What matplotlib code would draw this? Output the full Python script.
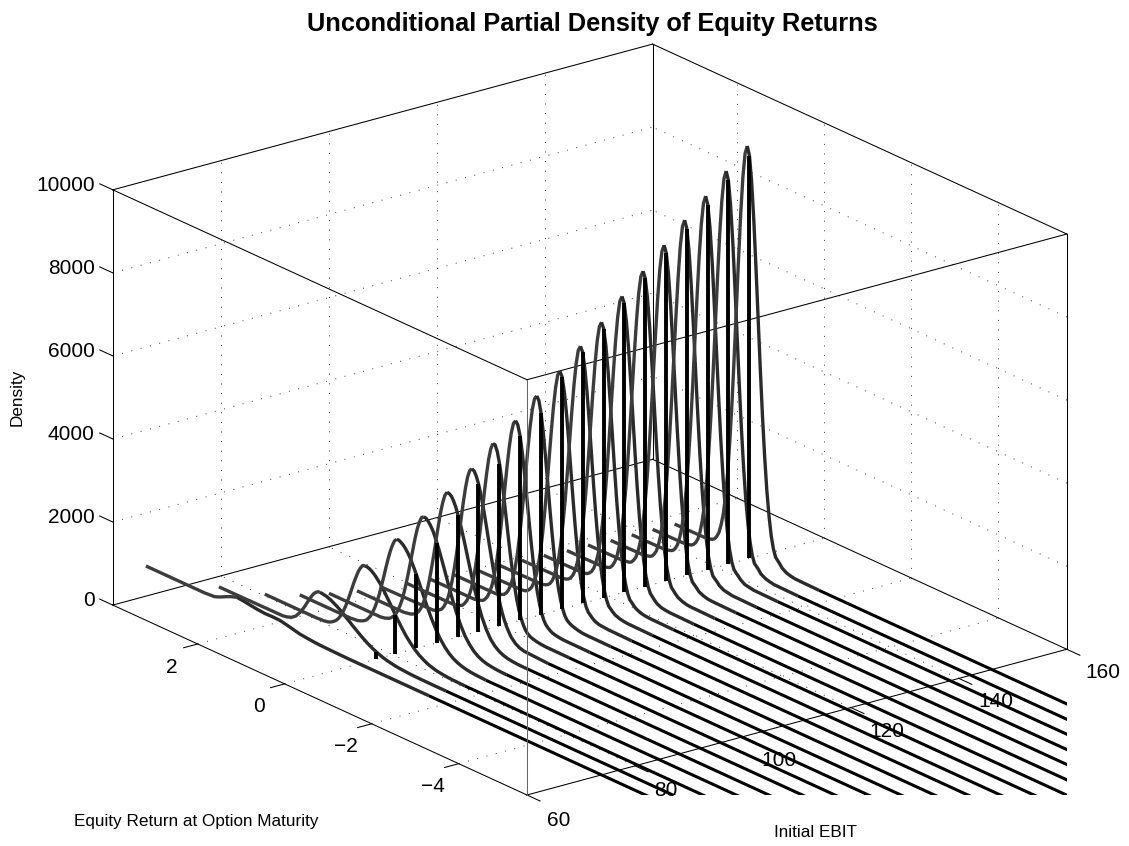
import matplotlib
matplotlib.use('Agg')
import matplotlib.pyplot as plt
import numpy as np
from matplotlib.transforms import Bbox
from mpl_toolkits.mplot3d import proj3d

plt.rcParams['font.family'] = ['Liberation Sans', 'DejaVu Sans']

W, H = 1129, 846

x_limits = (60, 160)
y_limits = (-5.57, 3.95)
z_limits = (0, 10000)
x_ticks = [60, 80, 100, 120, 140, 160]
y_ticks = [-4, -2, 0, 2]
z_ticks = [0, 2000, 4000, 6000, 8000, 10000]
y_tick_labels = ['\u22124', '\u22122', '0', '2']

# initial EBIT of each curve, highest first
ebit = [146.1, 142.2, 138.4, 134.5, 130.7, 126.8, 122.9, 119.1, 115.2, 111.4,
        107.5, 103.6, 99.8, 95.9, 92.1, 88.2, 84.4, 80.5, 77.0, 73.8]
# where each curve starts at the back of the plot
start_return = [1.72, 1.74, 1.75, 1.75, 1.80, 1.80, 1.85, 1.88, 1.95, 1.96,
                2.03, 2.07, 2.13, 2.22, 2.32, 2.48, 2.68, 3.00, 3.62, 4.90]
# density at return 0, top of the black spikes
density_at_zero = [9700, 9240, 8780, 8350, 7890, 7420, 6960, 6480, 6050, 5590,
                   4850, 4450, 3910, 3560, 2950, 2400, 1780, 950, 170]

high_returns = [1.05, 0.95, 0.85, 0.80, 0.75, 0.70, 0.65, 0.60, 0.55, 0.50, 0.45, 0.40, 0.35,
                0.30, 0.25, 0.20, 0.15, 0.10, 0.05, 0.0, -0.05, -0.10, -0.15, -0.20, -0.25,
                -0.30, -0.35, -0.40, -0.45, -0.50, -0.55, -0.60, -0.65, -0.70, -0.75,
                -0.85, -0.95, -1.05]
high_density = [
    [10, 20, 50, 90, 170, 290, 500, 790, 1240, 1830, 2620, 3570, 4680, 5880, 7090, 8210, 9110, 9700, 9906,
     9700, 9110, 8210, 7090, 5880, 4680, 3570, 2620, 1830, 1240, 790, 500, 320, 260, 200, 130, 60, 30, 10],
    [10, 20, 50, 90, 160, 270, 470, 760, 1180, 1750, 2490, 3400, 4460, 5610, 6760, 7830, 8680, 9240, 9440,
     9240, 8680, 7830, 6760, 5610, 4460, 3400, 2490, 1750, 1180, 760, 470, 300, 250, 190, 120, 60, 30, 10],
    [10, 20, 50, 80, 150, 260, 450, 720, 1120, 1660, 2370, 3230, 4230, 5330, 6420, 7440, 8250, 8780, 8970,
     8780, 8250, 7440, 6420, 5330, 4230, 3230, 2370, 1660, 1120, 720, 450, 290, 230, 180, 120, 50, 30, 10],
    [10, 20, 50, 80, 150, 250, 430, 680, 1070, 1580, 2250, 3070, 4030, 5070, 6110, 7070, 7850, 8350, 8530,
     8350, 7850, 7070, 6110, 5070, 4030, 3070, 2250, 1580, 1070, 680, 430, 270, 220, 170, 110, 50, 30, 10],
    [10, 20, 40, 70, 140, 230, 400, 640, 1010, 1490, 2130, 2900, 3800, 4790, 5770, 6680, 7420, 7890, 8060,
     7890, 7420, 6680, 5770, 4790, 3800, 2900, 2130, 1490, 1010, 640, 400, 260, 210, 160, 100, 50, 20, 10],
    [10, 20, 50, 80, 150, 260, 420, 670, 1020, 1500, 2100, 2840, 3690, 4600, 5500, 6320, 6990, 7420, 7570,
     7420, 6990, 6320, 5500, 4600, 3690, 2840, 2100, 1500, 1020, 670, 420, 270, 210, 150, 100, 50, 20, 10],
    [10, 10, 40, 80, 140, 240, 400, 630, 960, 1410, 1970, 2660, 3460, 4310, 5150, 5930, 6550, 6960, 7100,
     6960, 6550, 5930, 5150, 4310, 3460, 2660, 1970, 1410, 960, 630, 400, 260, 200, 140, 90, 40, 20, 10],
    [10, 10, 40, 70, 130, 220, 370, 590, 890, 1310, 1840, 2480, 3220, 4010, 4800, 5520, 6100, 6480, 6610,
     6480, 6100, 5520, 4800, 4010, 3220, 2480, 1840, 1310, 890, 590, 370, 240, 190, 130, 90, 40, 20, 10],
    [10, 10, 40, 70, 120, 210, 350, 550, 830, 1220, 1720, 2310, 3000, 3750, 4480, 5150, 5690, 6050, 6170,
     6050, 5690, 5150, 4480, 3750, 3000, 2310, 1720, 1220, 830, 550, 350, 220, 170, 120, 80, 40, 20, 10],
    [10, 10, 30, 60, 110, 190, 320, 510, 770, 1130, 1580, 2140, 2780, 3460, 4140, 4760, 5260, 5590, 5700,
     5590, 5260, 4760, 4140, 3460, 2780, 2140, 1580, 1130, 770, 510, 320, 210, 160, 110, 70, 30, 20, 10],
    [5, 30, 80, 140, 230, 370, 560, 820, 1160, 1600, 2110, 2680, 3290, 3880, 4420, 4850, 5130, 5220,
     5130, 4850, 4420, 3880, 3290, 2680, 2110, 1600, 1160, 820, 560, 370, 230, 150, 110, 80, 60, 30, 10, 5],
    [5, 30, 70, 130, 210, 340, 510, 750, 1060, 1460, 1920, 2450, 3000, 3540, 4030, 4420, 4670, 4760,
     4680, 4450, 4080, 3620, 3100, 2570, 2060, 1590, 1190, 860, 600, 400, 260, 170, 120, 80, 50, 25, 10, 5],
    [10, 30, 90, 160, 250, 390, 580, 840, 1170, 1570, 2030, 2520, 3030, 3490, 3890, 4170, 4320,
     4310, 4170, 3910, 3570, 3160, 2710, 2260, 1830, 1440, 1100, 810, 580, 410, 280, 180, 120, 80, 60, 30, 15, 5],
    [15, 50, 130, 210, 330, 480, 690, 960, 1290, 1660, 2080, 2510, 2930, 3300, 3600, 3780, 3850,
     3820, 3720, 3560, 3350, 3100, 2820, 2520, 2210, 1910, 1620, 1350, 1110, 890, 700, 550, 420, 320, 230, 120, 60, 30],
]

low_returns = [2.15, 2.10, 2.05, 2.00, 1.95, 1.90, 1.85, 1.80, 1.75, 1.70, 1.65, 1.60, 1.55, 1.50, 1.45,
               1.40, 1.35, 1.30, 1.25, 1.20, 1.15, 1.10, 1.05, 1.00, 0.95, 0.90, 0.85, 0.80, 0.75, 0.70,
               0.65, 0.60, 0.55, 0.50, 0.45, 0.40, 0.35, 0.30, 0.25, 0.20, 0.15, 0.10, 0.05,
               -0.05, -0.15, -0.25, -0.35, -0.45, -0.55, -0.65, -0.75, -0.85, -0.95, -1.05, -1.15, -1.25,
               -1.35, -1.45, -1.55]
low_density = [
    [0] * 19 + [10, 20, 30, 50, 80, 120, 190, 290, 430, 600, 820, 1100, 1410, 1750, 2120, 2470, 2800, 3070, 3270,
                3370, 3360, 3320, 3230, 3110,
                2780, 2360, 1910, 1470, 1080, 750, 500, 310, 190, 110, 60, 30, 15, 5, 0, 0],
    [0] * 18 + [10, 20, 40, 60, 100, 160, 230, 340, 480, 650, 870, 1120, 1400, 1690, 1990, 2280, 2530, 2720, 2850,
                2890, 2880, 2830, 2760, 2670, 2550,
                2260, 1930, 1580, 1240, 940, 680, 470, 320, 205, 125, 75, 43, 25, 12, 5, 0],
    [0] * 14 + [10, 15, 20, 40, 60, 90, 130, 200, 280, 400, 540, 710, 900, 1130, 1360, 1610, 1840, 2050, 2220, 2350,
                2410, 2410, 2380, 2340, 2280, 2210, 2120, 2010, 1900,
                1650, 1380, 1120, 880, 670, 490, 350, 240, 160, 105, 67, 40, 25, 15, 8, 3],
    [0] * 8 + [5, 8, 10, 20, 30, 50, 80, 120, 170, 240, 330, 450, 580, 740, 910, 1090, 1270, 1430, 1580, 1690, 1770,
               1790, 1785, 1770, 1740, 1700, 1650, 1590, 1530, 1450, 1380, 1290, 1210, 1120, 1030,
               860, 700, 550, 430, 320, 235, 170, 115, 80, 50, 35, 20, 12, 7, 4, 2],
    [10, 20, 30, 50, 70, 110, 150, 220, 290, 380, 470, 580, 680, 780, 870, 930, 975, 985,
     980, 970, 960, 940, 920, 890, 860, 830, 795, 755, 715, 670, 630, 590, 545, 505, 465, 425, 385, 350, 315, 280,
     250, 220, 195, 150, 110, 80, 60, 40, 30, 20, 13, 8, 5, 3, 2, 1, 0, 0, 0],
]

# lowest EBIT curve, only a small hump
hump_returns = [3.55, 3.32, 3.20, 3.09, 2.95, 2.81, 2.66, 2.51, 2.34, 2.17, 2.00,
                1.82, 1.60, 1.36, 1.10, 0.90, 0.50, 0.21]
hump_density = [0, 20, 70, 130, 200, 250, 235, 210, 185, 170, 175,
                170, 120, 60, 30, 15, 5, 0]


def px(x, y):
    return x / W, 1 - y / H


def line(ax, xs, ys, zs, **kw):
    kw.setdefault('color', 'k')
    kw.setdefault('lw', 0.75)
    kw.setdefault('clip_on', False)
    return ax.plot(xs, ys, zs, **kw)[0]


def corner_px(ax, x, y, z):
    xp, yp, _ = proj3d.proj_transform(x, y, z, ax.get_proj())
    return ax.transData.transform((xp, yp))


def tick_label(ax, x, y, z, label, ha='center'):
    pos = corner_px(ax, x, y, z)
    fig.text(pos[0] / W, pos[1] / H, label, fontsize=15, ha=ha, va='center')


fig = plt.figure(figsize=(W / 100, H / 100), dpi=100, facecolor='white')
ax = fig.add_axes([0, 0, 1, 1], projection='3d', proj_type='ortho', computed_zorder=False)
ax.set_xlim(*x_limits, view_margin=0)
ax.set_ylim(*y_limits, view_margin=0)
ax.set_zlim(*z_limits, view_margin=0)
ax.view_init(elev=20.6, azim=232.5)
ax.set_box_aspect((1, 1, 0.652))
ax.set_xticks([])
ax.set_yticks([])
ax.set_zticks([])
ax.set_axis_off()

# fit the box on the reference: left corner to right corner of the floor
fig.canvas.draw()
a = corner_px(ax, x_limits[0], y_limits[1], 0)
b = corner_px(ax, x_limits[1], y_limits[0], 0)
ax.set_box_aspect((1, 1, 0.652), zoom=(1067 - 113) / (b[0] - a[0]))
fig.canvas.draw()
front = corner_px(ax, x_limits[0], y_limits[0], 0)
ax.set_position([(527 - front[0]) / W, ((H - 795) - front[1]) / H, 1, 1])
fig.canvas.draw()

xa, xb = x_limits
ya, yb = y_limits
za, zb = z_limits

# dotted grid on floor and back walls
dots = dict(color='#444444', lw=0.72, ls=(0, (1, 8.6)))
for xt in x_ticks[1:-1]:
    line(ax, [xt, xt], [ya, yb], [za, za], **dots)
    line(ax, [xt, xt], [yb, yb], [za, zb], **dots)
for yt in y_ticks:
    line(ax, [xa, xb], [yt, yt], [za, za], **dots)
    line(ax, [xb, xb], [yt, yt], [za, zb], **dots)
for zt in z_ticks[1:-1]:
    line(ax, [xa, xb], [yb, yb], [zt, zt], **dots)
    line(ax, [xb, xb], [ya, yb], [zt, zt], **dots)

# box
for z in (za, zb):
    line(ax, [xa, xb], [ya, ya], [z, z])
    line(ax, [xa, xb], [yb, yb], [z, z])
    line(ax, [xa, xa], [ya, yb], [z, z])
    line(ax, [xb, xb], [ya, yb], [z, z])
for xc, yc in [(xa, yb), (xb, ya), (xb, yb)]:
    line(ax, [xc, xc], [yc, yc], [za, zb])

# ticks and tick labels, 60 and 80 sit a little more to the left
x_label_shift = [-0.9, -0.9, 0, 0, 0.2, 0]
for xt, shift in zip(x_ticks, x_label_shift):
    line(ax, [xt, xt], [ya, ya - 0.3], [0, 0])
    tick_label(ax, xt - 1.6 + shift, ya - 1.03, -20, str(xt))
for yt, lab in zip(y_ticks, y_tick_labels):
    line(ax, [xa, xa - 2.6], [yt, yt], [0, 0])
    tick_label(ax, xa - 8.36, yt - 0.44, -50, lab)
for zt in z_ticks:
    line(ax, [xa, xa], [yb, yb + 0.3], [zt, zt])
    tick_label(ax, xa, yb + 0.42, zt - 90, str(zt), ha='right')

# curves are cut off at the plot rectangle
clip = Bbox([[0, H - 795], [1067, H]])
curves = []
for i, row in enumerate(high_density):
    curves.append(([start_return[i]] + high_returns + [-1.6, -15], [0] + row + [0, 0]))
for i, row in enumerate(low_density):
    curves.append(([start_return[len(high_density) + i]] + low_returns + [-1.6, -15], [0] + row + [0, 0]))
curves.append(([start_return[-1]] + hump_returns + [-1.6, -15], [0] + hump_density + [0, 0]))

for i in range(len(curves) - 1, -1, -1):
    ys = np.array(curves[i][0])
    zs = np.array(curves[i][1])
    xs = np.full(len(ys), ebit[i])
    top = int(np.argmax(zs))
    tail = len(ys) - 2
    parts = [(0, top + 1, '#3c3c3c', 2.4), (top, tail + 1, '#2a2a2a', 2.4), (tail, len(ys), 'k', 2.2)]
    for j, k, col, width in parts:
        l = ax.plot(xs[j:k], ys[j:k], zs[j:k], color=col, lw=width, solid_capstyle='butt', zorder=3)[0]
        l.set_clip_box(clip)

# the spikes stay on top of all the curves
for i, top_z in enumerate(density_at_zero):
    ax.plot([ebit[i], ebit[i]], [0, 0], [0, top_z], color='k', lw=2.8, solid_capstyle='butt',
            clip_on=False, zorder=4)

# front edge of the box sits above the curves, in gray
line(ax, [xa, xa], [ya, ya], [za, zb], color='#666666', zorder=5)

x, y = px(592, 24)
fig.text(x, y, 'Unconditional Partial Density of Equity Returns', fontsize=18.3, fontweight='bold',
         ha='center', va='center')
x, y = px(17, 397)
fig.text(x, y, 'Density', fontsize=12.3, rotation=90, ha='center', va='center')
x, y = px(196, 821)
fig.text(x, y, 'Equity Return at Option Maturity', fontsize=12.3, ha='center', va='center')
x, y = px(815, 832)
fig.text(x, y, 'Initial EBIT', fontsize=12.3, ha='center', va='center')

fig.savefig('out.png', dpi=100)
